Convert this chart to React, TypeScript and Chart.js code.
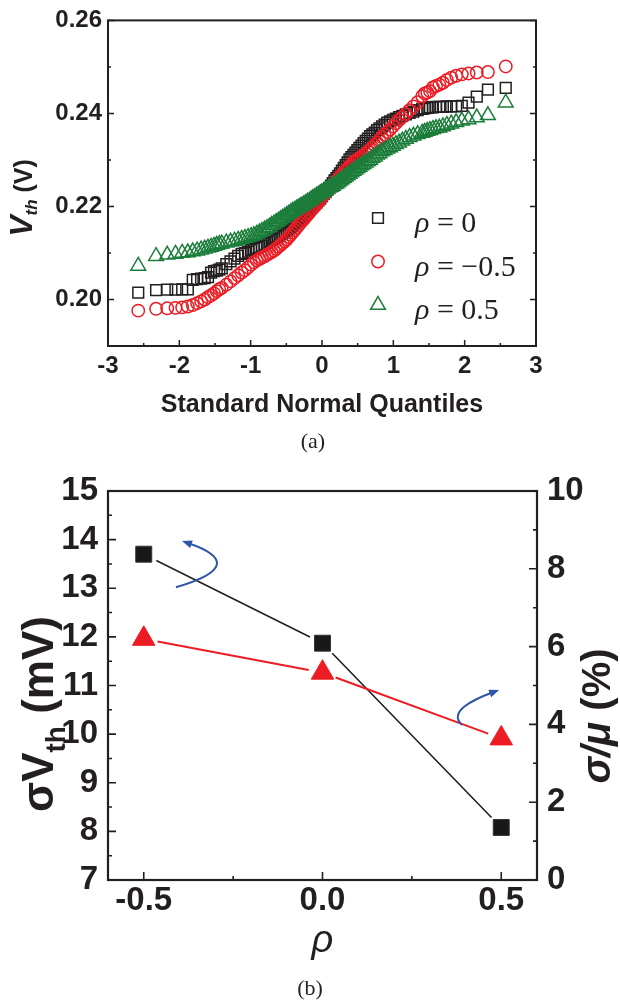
import React, { useEffect, useRef } from 'react';
import { Chart, registerables } from 'chart.js';

Chart.register(...registerables);

// ---------------- Panel (a): Q-Q plot ----------------
const quantiles = [
  -2.576, -2.326, -2.170, -2.054, -1.960, -1.881, -1.812, -1.751, -1.695, -1.645,
  -1.598, -1.555, -1.514, -1.476, -1.440, -1.405, -1.341, -1.282, -1.227, -1.175,
  -1.126, -1.080, -1.036, -0.994, -0.954, -0.915, -0.878, -0.842, -0.806, -0.772,
  -0.739, -0.706, -0.674, -0.643, -0.613, -0.583, -0.553, -0.524, -0.496, -0.468,
  -0.440, -0.412, -0.385, -0.358, -0.332, -0.305, -0.279, -0.253, -0.228, -0.202,
  -0.176, -0.151, -0.126, -0.100, -0.075, -0.050, -0.025, 0,
  0.025, 0.050, 0.075, 0.100, 0.126, 0.151, 0.176, 0.202, 0.228, 0.253,
  0.279, 0.305, 0.332, 0.358, 0.385, 0.412, 0.440, 0.468, 0.496, 0.524,
  0.553, 0.583, 0.613, 0.643, 0.674, 0.706, 0.739, 0.772, 0.806, 0.842,
  0.878, 0.915, 0.954, 0.994, 1.036, 1.080, 1.126, 1.175, 1.227, 1.282,
  1.341, 1.405, 1.440, 1.476, 1.514, 1.555, 1.598, 1.645, 1.695, 1.751,
  1.812, 1.881, 1.960, 2.054, 2.170, 2.326, 2.576,
];

const vthRho0 = [
  0.2015, 0.2020, 0.2021, 0.2021, 0.2022, 0.2022, 0.2042, 0.2044, 0.2045, 0.2046,
  0.2048, 0.2058, 0.2061, 0.2062, 0.2064, 0.2067, 0.2076, 0.2082, 0.2088, 0.2094,
  0.2098, 0.2100, 0.2103, 0.2106, 0.2109, 0.2111, 0.2113, 0.2116, 0.2119, 0.2122,
  0.2125, 0.2128, 0.2131, 0.2134, 0.2137, 0.2140, 0.2143, 0.2146, 0.2149, 0.2152,
  0.2156, 0.2159, 0.2163, 0.2167, 0.2171, 0.2175, 0.2178, 0.2182, 0.2186, 0.2190,
  0.2194, 0.2198, 0.2201, 0.2205, 0.2209, 0.2213, 0.2217, 0.2222,
  0.2227, 0.2231, 0.2236, 0.2240, 0.2245, 0.2250, 0.2256, 0.2261, 0.2266, 0.2271,
  0.2277, 0.2283, 0.2289, 0.2295, 0.2301, 0.2306, 0.2311, 0.2316, 0.2321, 0.2326,
  0.2331, 0.2336, 0.2341, 0.2346, 0.2351, 0.2355, 0.2359, 0.2364, 0.2368, 0.2372,
  0.2376, 0.2380, 0.2383, 0.2386, 0.2389, 0.2392, 0.2395, 0.2398, 0.2401, 0.2404,
  0.2407, 0.2410, 0.2411, 0.2412, 0.2413, 0.2413, 0.2414, 0.2414, 0.2414, 0.2415,
  0.2415, 0.2415, 0.2416, 0.2423, 0.2436, 0.2451, 0.2455,
];

const vthRhoNeg = [
  0.1976, 0.1980, 0.1981, 0.1982, 0.1983, 0.1985, 0.1988, 0.1992, 0.1996, 0.2000,
  0.2005, 0.2009, 0.2013, 0.2018, 0.2022, 0.2025, 0.2032, 0.2039, 0.2046, 0.2052,
  0.2058, 0.2063, 0.2069, 0.2075, 0.2080, 0.2084, 0.2087, 0.2090, 0.2093, 0.2096,
  0.2099, 0.2102, 0.2105, 0.2109, 0.2113, 0.2117, 0.2121, 0.2125, 0.2129, 0.2134,
  0.2139, 0.2144, 0.2149, 0.2154, 0.2159, 0.2164, 0.2169, 0.2173, 0.2178, 0.2182,
  0.2187, 0.2192, 0.2196, 0.2201, 0.2205, 0.2210, 0.2215, 0.2220,
  0.2225, 0.2229, 0.2234, 0.2238, 0.2242, 0.2246, 0.2251, 0.2255, 0.2260, 0.2264,
  0.2268, 0.2273, 0.2277, 0.2281, 0.2286, 0.2290, 0.2295, 0.2298, 0.2301, 0.2304,
  0.2307, 0.2310, 0.2314, 0.2318, 0.2322, 0.2327, 0.2332, 0.2337, 0.2343, 0.2349,
  0.2354, 0.2360, 0.2365, 0.2372, 0.2379, 0.2386, 0.2392, 0.2399, 0.2407, 0.2415,
  0.2424, 0.2437, 0.2443, 0.2445, 0.2448, 0.2456, 0.2459, 0.2462, 0.2466, 0.2472,
  0.2477, 0.2481, 0.2484, 0.2486, 0.2488, 0.2489, 0.2501,
];

const vthRhoPos = [
  0.2072, 0.2093, 0.2096, 0.2098, 0.2100, 0.2101, 0.2103, 0.2105, 0.2107, 0.2109,
  0.2111, 0.2113, 0.2115, 0.2117, 0.2119, 0.2120, 0.2122, 0.2124, 0.2126, 0.2128,
  0.2130, 0.2132, 0.2134, 0.2136, 0.2138, 0.2141, 0.2144, 0.2147, 0.2150, 0.2153,
  0.2156, 0.2160, 0.2163, 0.2166, 0.2169, 0.2172, 0.2175, 0.2178, 0.2181, 0.2184,
  0.2187, 0.2190, 0.2192, 0.2195, 0.2197, 0.2200, 0.2202, 0.2205, 0.2207, 0.2210,
  0.2212, 0.2215, 0.2218, 0.2220, 0.2223, 0.2225, 0.2228, 0.2230,
  0.2232, 0.2235, 0.2237, 0.2240, 0.2242, 0.2244, 0.2247, 0.2249, 0.2252, 0.2255,
  0.2258, 0.2261, 0.2264, 0.2267, 0.2270, 0.2273, 0.2276, 0.2279, 0.2282, 0.2285,
  0.2288, 0.2291, 0.2294, 0.2297, 0.2300, 0.2304, 0.2307, 0.2311, 0.2314, 0.2318,
  0.2321, 0.2324, 0.2327, 0.2330, 0.2334, 0.2337, 0.2341, 0.2345, 0.2349, 0.2352,
  0.2355, 0.2358, 0.2360, 0.2362, 0.2364, 0.2366, 0.2368, 0.2369, 0.2372, 0.2375,
  0.2378, 0.2381, 0.2384, 0.2387, 0.2391, 0.2396, 0.2423,
];

const xTicksA = [-3, -2, -1, 0, 1, 2, 3];
const xMinorA = [-2.5, -1.5, -0.5, 0.5, 1.5, 2.5];
const yTicksA = [0.20, 0.22, 0.24, 0.26];
const yMinorA = [0.21, 0.23, 0.25];
const legendLabelsA = [' = 0', ' = \u22120.5', ' = 0.5'];

// ---------------- Panel (b): sigma vs rho ----------------
const rhoValues = [-0.5, 0.0, 0.5];
const sigmaVth = [13.7, 11.87, 8.08];
const sigmaOverMu = [6.2, 5.33, 3.64];
const xTicksB = [-0.5, 0.0, 0.5];
const xMinorB = [-0.25, 0.25];
const yTicksBLeft = [7, 8, 9, 10, 11, 12, 13, 14, 15];
const yMinorBLeft = [7.5, 8.5, 9.5, 10.5, 11.5, 12.5, 13.5, 14.5];
const yTicksBRight = [0, 2, 4, 6, 8, 10];
const yMinorBRight = [1, 3, 5, 7, 9];
// curved annotation arrows (cubic Bezier control points, in x / left-axis units)
const arrowToLeftAxis = [
  { x: -0.41, y: 13.02 }, { x: -0.266, y: 13.327 }, { x: -0.26, y: 13.643 }, { x: -0.393, y: 13.97 },
];
const arrowToRightAxis = [
  { x: 0.39, y: 10.19 }, { x: 0.351, y: 10.46 }, { x: 0.418, y: 10.70 }, { x: 0.494, y: 10.91 },
];

// ---------------- styling ----------------
const INK = '#231f20';
const RED = '#ed1c24';
const GREEN = '#1b7d3a';
const BLUE = '#2d56a6';
const SANS = "'Liberation Sans', Arial, sans-serif";
const SERIF = "'Liberation Serif', 'Times New Roman', serif";

type TickSpec = {
  axis: string;
  side: 'left' | 'right' | 'bottom';
  major: number[];
  minor: number[];
  majorLen: number;
  minorLen: number;
};

function framePlugin(id: string, specs: TickSpec[], frameWidth: number, tickWidth: number) {
  return {
    id,
    afterDatasetsDraw(chart: any) {
      const { ctx, chartArea: a } = chart;
      ctx.save();
      ctx.strokeStyle = INK;
      ctx.lineWidth = tickWidth;
      ctx.beginPath();
      for (const t of specs) {
        const s = chart.scales[t.axis];
        const draw = (v: number, len: number) => {
          const p = s.getPixelForValue(v);
          if (t.side === 'left') { ctx.moveTo(a.left, p); ctx.lineTo(a.left + len, p); }
          else if (t.side === 'right') { ctx.moveTo(a.right, p); ctx.lineTo(a.right - len, p); }
          else { ctx.moveTo(p, a.bottom); ctx.lineTo(p, a.bottom - len); }
        };
        t.major.forEach((v) => draw(v, t.majorLen));
        t.minor.forEach((v) => draw(v, t.minorLen));
      }
      ctx.stroke();
      ctx.lineWidth = frameWidth;
      ctx.strokeRect(a.left, a.top, a.right - a.left, a.bottom - a.top);
      ctx.restore();
    },
  };
}

type Part = { text: string; font: string; shift?: number };

function drawRotatedRich(ctx: CanvasRenderingContext2D, baselineX: number, centerY: number, parts: Part[], color: string) {
  ctx.save();
  ctx.fillStyle = color;
  ctx.textBaseline = 'alphabetic';
  ctx.textAlign = 'left';
  let total = 0;
  const widths = parts.map((p) => {
    ctx.font = p.font;
    const w = ctx.measureText(p.text).width;
    total += w;
    return w;
  });
  ctx.translate(baselineX, centerY + total / 2);
  ctx.rotate(-Math.PI / 2);
  let u = 0;
  parts.forEach((p, i) => {
    ctx.font = p.font;
    ctx.fillText(p.text, u, p.shift || 0);
    u += widths[i];
  });
  ctx.restore();
}

function drawMarker(ctx: CanvasRenderingContext2D, style: string, x: number, y: number, r: number) {
  ctx.beginPath();
  if (style === 'rect') {
    const s = Math.SQRT1_2 * r;
    ctx.rect(x - s, y - s, 2 * s, 2 * s);
  } else if (style === 'circle') {
    ctx.arc(x, y, r, 0, Math.PI * 2);
  } else {
    let rad = 0;
    ctx.moveTo(x + Math.sin(rad) * r, y - Math.cos(rad) * r);
    rad += (2 * Math.PI) / 3;
    ctx.lineTo(x + Math.sin(rad) * r, y - Math.cos(rad) * r);
    rad += (2 * Math.PI) / 3;
    ctx.lineTo(x + Math.sin(rad) * r, y - Math.cos(rad) * r);
    ctx.closePath();
  }
  ctx.stroke();
}

const legendPluginA = {
  id: 'legendA',
  afterDraw(chart: any) {
    const { ctx } = chart;
    const metas = [0, 1, 2].map((i) => chart.data.datasets[i]);
    ctx.save();
    metas.forEach((ds: any, i: number) => {
      const my = 218 + i * 43.5;
      ctx.strokeStyle = ds.pointBorderColor;
      ctx.lineWidth = ds.pointBorderWidth;
      drawMarker(ctx, ds.pointStyle, 378, my, ds.pointRadius);
      ctx.fillStyle = INK;
      ctx.textBaseline = 'alphabetic';
      ctx.textAlign = 'left';
      ctx.font = `italic 30px ${SERIF}`;
      ctx.fillText('\u03c1', 415, my + 14);
      const w = ctx.measureText('\u03c1').width;
      ctx.font = `30px ${SERIF}`;
      ctx.fillText(legendLabelsA[i], 415 + w, my + 14);
    });
    ctx.restore();
  },
};

const yTitlePluginA = {
  id: 'yTitleA',
  afterDraw(chart: any) {
    drawRotatedRich(chart.ctx, 32, 198, [
      { text: 'V', font: `bold italic 32px ${SANS}` },
      { text: 'th', font: `bold italic 17px ${SANS}`, shift: 5 },
      { text: ' (V)', font: `bold 25px ${SANS}` },
    ], INK);
  },
};

const gapLinesPlugin = {
  id: 'gapLines',
  beforeDatasetsDraw(chart: any) {
    const { ctx } = chart;
    chart.data.datasets.forEach((ds: any, i: number) => {
      const g = ds.gapLine;
      if (!g) return;
      const pts = chart.getDatasetMeta(i).data;
      ctx.save();
      ctx.strokeStyle = g.color;
      ctx.lineWidth = g.width;
      ctx.beginPath();
      for (let k = 0; k < pts.length - 1; k++) {
        const p = pts[k];
        const q = pts[k + 1];
        const dx = q.x - p.x;
        const dy = q.y - p.y;
        const L = Math.hypot(dx, dy);
        const ux = dx / L;
        const uy = dy / L;
        ctx.moveTo(p.x + ux * g.gap, p.y + uy * g.gap);
        ctx.lineTo(q.x - ux * g.gap, q.y - uy * g.gap);
      }
      ctx.stroke();
      ctx.restore();
    });
  },
};

const arrowsPluginB = {
  id: 'arrowsB',
  afterDatasetsDraw(chart: any) {
    const { ctx } = chart;
    const sx = chart.scales.x;
    const sy = chart.scales.y;
    const toPx = (p: { x: number; y: number }) => ({ x: sx.getPixelForValue(p.x), y: sy.getPixelForValue(p.y) });
    [arrowToLeftAxis, arrowToRightAxis].forEach((arr) => {
      const [s, c1, c2, e] = arr.map(toPx);
      ctx.save();
      ctx.strokeStyle = BLUE;
      ctx.fillStyle = BLUE;
      ctx.lineWidth = 2;
      const dx = e.x - c2.x;
      const dy = e.y - c2.y;
      const L = Math.hypot(dx, dy);
      const ux = dx / L;
      const uy = dy / L;
      const head = 10;
      ctx.beginPath();
      ctx.moveTo(s.x, s.y);
      ctx.bezierCurveTo(c1.x, c1.y, c2.x, c2.y, e.x - ux * head * 0.6, e.y - uy * head * 0.6);
      ctx.stroke();
      ctx.beginPath();
      ctx.moveTo(e.x, e.y);
      ctx.lineTo(e.x - ux * head - uy * 4, e.y - uy * head + ux * 4);
      ctx.lineTo(e.x - ux * head + uy * 4, e.y - uy * head - ux * 4);
      ctx.closePath();
      ctx.fill();
      ctx.restore();
    });
  },
};

const titlesPluginB = {
  id: 'titlesB',
  afterDraw(chart: any) {
    drawRotatedRich(chart.ctx, 53, 274, [
      { text: '\u03c3V', font: `bold 44px ${SANS}` },
      { text: 'th', font: `bold 28px ${SANS}`, shift: 12 },
      { text: ' (mV)', font: `bold 44px ${SANS}` },
    ], INK);
    drawRotatedRich(chart.ctx, 610, 276, [
      { text: '\u03c3/\u03bc', font: `bold italic 40px ${SANS}` },
      { text: ' (%)', font: `bold 40px ${SANS}` },
    ], INK);
  },
};

function buildChartA(canvas: HTMLCanvasElement) {
  const mk = (ys: number[]) => quantiles.map((x, i) => ({ x, y: ys[i] }));
  return new Chart(canvas, {
    type: 'scatter',
    data: {
      datasets: [
        {
          label: '\u03c1 = 0', data: mk(vthRho0), pointStyle: 'rect', pointRadius: 7.6,
          pointBorderColor: INK, borderColor: INK, pointBackgroundColor: 'rgba(0,0,0,0)',
          backgroundColor: 'rgba(0,0,0,0)', pointBorderWidth: 1.5, borderWidth: 1.5, order: 3,
        },
        {
          label: '\u03c1 = \u22120.5', data: mk(vthRhoNeg), pointStyle: 'circle', pointRadius: 6.2,
          pointBorderColor: RED, borderColor: RED, pointBackgroundColor: 'rgba(0,0,0,0)',
          backgroundColor: 'rgba(0,0,0,0)', pointBorderWidth: 1.5, borderWidth: 1.5, order: 2,
        },
        {
          label: '\u03c1 = 0.5', data: mk(vthRhoPos), pointStyle: 'triangle', pointRadius: 8.5,
          pointBorderColor: GREEN, borderColor: GREEN, pointBackgroundColor: 'rgba(0,0,0,0)',
          backgroundColor: 'rgba(0,0,0,0)', pointBorderWidth: 1.5, borderWidth: 1.5, order: 1,
        },
      ] as any,
    },
    options: {
      animation: false,
      responsive: false,
      events: [],
      layout: { padding: { top: 16, right: 84, left: 0, bottom: 0 } },
      plugins: { legend: { display: false }, tooltip: { enabled: false } },
      scales: {
        x: {
          type: 'linear', min: -3, max: 3,
          grid: { display: false, drawTicks: false }, border: { display: false },
          afterBuildTicks: (s: any) => { s.ticks = xTicksA.map((v) => ({ value: v })); },
          afterFit: (s: any) => { s.height = 94; },
          ticks: {
            autoSkip: false, maxRotation: 0, padding: 6, color: INK,
            font: { family: SANS, size: 24, weight: 'bold' },
            callback: (v: any) => String(v),
          },
          title: {
            display: true, text: 'Standard Normal Quantiles', color: INK,
            font: { family: SANS, size: 25, weight: 'bold' }, padding: { top: 0, bottom: 20 },
          },
        },
        y: {
          type: 'linear', min: 0.19, max: 0.26,
          grid: { display: false, drawTicks: false }, border: { display: false },
          afterBuildTicks: (s: any) => { s.ticks = yTicksA.map((v) => ({ value: v })); },
          afterFit: (s: any) => { s.width = 108; },
          ticks: {
            autoSkip: false, padding: 6, color: INK,
            font: { family: SANS, size: 24, weight: 'bold' },
            callback: (v: any) => Number(v).toFixed(2),
          },
        },
      },
    } as any,
    plugins: [
      framePlugin('frameA', [
        { axis: 'y', side: 'left', major: yTicksA, minor: yMinorA, majorLen: 6, minorLen: 3 },
        { axis: 'y', side: 'right', major: yTicksA, minor: yMinorA, majorLen: 6, minorLen: 3 },
        { axis: 'x', side: 'bottom', major: xTicksA, minor: xMinorA, majorLen: 6, minorLen: 3 },
      ], 2, 1.5),
      legendPluginA,
      yTitlePluginA,
    ],
  });
}

function buildChartB(canvas: HTMLCanvasElement) {
  return new Chart(canvas, {
    type: 'scatter',
    data: {
      datasets: [
        {
          label: '\u03c3Vth', data: rhoValues.map((x, i) => ({ x, y: sigmaVth[i] })), yAxisID: 'y',
          pointStyle: 'rect', pointRadius: 11.3, pointBackgroundColor: '#1a1718', backgroundColor: '#1a1718',
          pointBorderColor: '#3a3637', borderColor: '#3a3637', pointBorderWidth: 1, borderWidth: 1,
          gapLine: { color: INK, width: 1.6, gap: 14 },
        },
        {
          label: '\u03c3/\u03bc', data: rhoValues.map((x, i) => ({ x, y: sigmaOverMu[i] })), yAxisID: 'y1',
          pointStyle: 'triangle', pointRadius: 13, pointBackgroundColor: RED, backgroundColor: RED,
          pointBorderColor: RED, borderColor: RED, pointBorderWidth: 1, borderWidth: 1,
          gapLine: { color: RED, width: 2, gap: 14 },
        },
      ] as any,
    },
    options: {
      animation: false,
      responsive: false,
      events: [],
      layout: { padding: { top: 51, right: 0, left: 0, bottom: 0 } },
      plugins: { legend: { display: false }, tooltip: { enabled: false } },
      scales: {
        x: {
          type: 'linear', min: -0.6, max: 0.6,
          grid: { display: false, drawTicks: false }, border: { display: false },
          afterBuildTicks: (s: any) => { s.ticks = xTicksB.map((v) => ({ value: v })); },
          afterFit: (s: any) => { s.height = 126; },
          ticks: {
            autoSkip: false, maxRotation: 0, padding: 1, color: INK,
            font: { family: SANS, size: 33, weight: 'bold' },
            callback: (v: any) => Number(v).toFixed(1),
          },
          title: {
            display: true, text: '\u03c1', color: INK,
            font: { family: SANS, size: 38, style: 'italic' }, padding: { top: 0, bottom: 42 },
          },
        },
        y: {
          type: 'linear', position: 'left', min: 7, max: 15,
          grid: { display: false, drawTicks: false }, border: { display: false },
          afterBuildTicks: (s: any) => { s.ticks = yTicksBLeft.map((v) => ({ value: v })); },
          afterFit: (s: any) => { s.width = 108; },
          ticks: {
            autoSkip: false, padding: 10, color: INK,
            font: { family: SANS, size: 33, weight: 'bold' },
            callback: (v: any) => String(v),
          },
        },
        y1: {
          type: 'linear', position: 'right', min: 0, max: 10,
          grid: { display: false, drawTicks: false }, border: { display: false },
          afterBuildTicks: (s: any) => { s.ticks = yTicksBRight.map((v) => ({ value: v })); },
          afterFit: (s: any) => { s.width = 83; },
          ticks: {
            autoSkip: false, padding: 10, color: INK,
            font: { family: SANS, size: 33, weight: 'bold' },
            callback: (v: any) => String(v),
          },
        },
      },
    } as any,
    plugins: [
      gapLinesPlugin,
      framePlugin('frameB', [
        { axis: 'y', side: 'left', major: yTicksBLeft, minor: yMinorBLeft, majorLen: 8, minorLen: 4 },
        { axis: 'y1', side: 'right', major: yTicksBRight, minor: yMinorBRight, majorLen: 8, minorLen: 4 },
        { axis: 'x', side: 'bottom', major: xTicksB, minor: xMinorB, majorLen: 8, minorLen: 4 },
      ], 2.2, 1.6),
      arrowsPluginB,
      titlesPluginB,
    ],
  });
}

export default function App() {
  const refA = useRef<HTMLCanvasElement>(null);
  const refB = useRef<HTMLCanvasElement>(null);
  useEffect(() => {
    const a = buildChartA(refA.current as HTMLCanvasElement);
    const b = buildChartB(refB.current as HTMLCanvasElement);
    return () => {
      a.destroy();
      b.destroy();
    };
  }, []);
  const caption: React.CSSProperties = {
    position: 'absolute', width: 200, textAlign: 'center', fontFamily: SERIF,
    fontSize: 22, lineHeight: '22px', color: INK,
  };
  return (
    <div style={{ position: 'absolute', left: 0, top: 0, width: 620, height: 1006, background: '#fff' }}>
      <canvas ref={refA} width={620} height={440} style={{ position: 'absolute', left: 0, top: 0, display: 'block' }} />
      <div style={{ ...caption, left: 213, top: 430 }}>(a)</div>
      <canvas ref={refB} width={620} height={566} style={{ position: 'absolute', left: 0, top: 440, display: 'block' }} />
      <div style={{ ...caption, left: 210, top: 977 }}>(b)</div>
    </div>
  );
}
